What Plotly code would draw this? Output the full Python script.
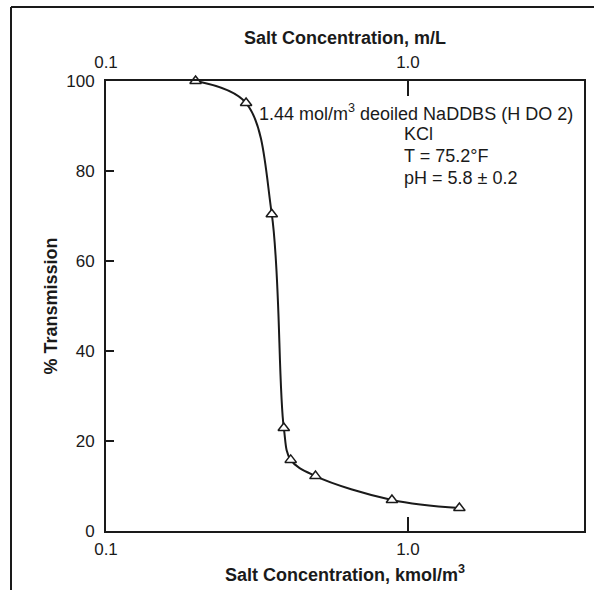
import plotly.graph_objects as go
import numpy as np

# Data
salt_conc = [0.198, 0.291, 0.354, 0.388, 0.409, 0.494, 0.885, 1.48]   # kmol/m^3
transmission = [100.0, 95.1, 70.4, 22.9, 15.8, 12.2, 6.9, 5.1]        # %

x_tick_vals = [0.1, 1.0]
x_tick_text = ["0.1", "1.0"]
y_tick_vals = [0, 20, 40, 60, 80, 100]

note_lines = ["1.44 mol/m<sup>3</sup> deoiled NaDDBS (H DO 2)", "KCl", "T = 75.2°F", "pH = 5.8 ± 0.2"]

W, H = 594, 590
L, R, T, B = 106, 10, 81, 59
pw, ph = W - L - R, H - T - B

def px_x(x):
    return (x - L) / pw

def px_y(y):
    return (H - B - y) / ph

FONT = "Liberation Sans, Arial, Helvetica, sans-serif"
INK = "#1a1a1a"

fig = go.Figure()
fig.add_trace(go.Scatter(
    x=salt_conc, y=transmission, mode="lines+markers",
    line=dict(color=INK, width=2, shape="spline", smoothing=1.0),
    marker=dict(symbol="triangle-up", size=10, color="white",
                line=dict(color=INK, width=1.5)),
    showlegend=False, cliponaxis=False,
))
# invisible trace for top axis
fig.add_trace(go.Scatter(x=salt_conc, y=transmission, xaxis="x2", mode="none",
                         showlegend=False, hoverinfo="skip"))

xr = [-1, 0.583]
fig.update_layout(
    width=W, height=H,
    margin=dict(l=L, r=R, t=T, b=B, autoexpand=False),
    paper_bgcolor="white", plot_bgcolor="white",
    font=dict(family=FONT, size=17, color=INK),
    xaxis=dict(type="log", range=xr, tickvals=x_tick_vals, ticktext=x_tick_text,
               ticks="inside", ticklen=14, tickwidth=2, tickcolor=INK,
               showline=True, linecolor=INK, linewidth=2, mirror=True,
               showgrid=False, zeroline=False, ticklabelstandoff=2,
               tickfont=dict(size=17), automargin=False,
               title=dict(text="<b>Salt Concentration, kmol/m<sup>3</sup></b>",
                          font=dict(size=18), standoff=10)),
    xaxis2=dict(type="log", range=xr, overlaying="x", side="top", anchor="y",
                tickvals=x_tick_vals, ticktext=x_tick_text,
                ticks="inside", ticklen=15, tickwidth=2, tickcolor=INK,
                showline=False, showgrid=False, zeroline=False,
                ticklabelstandoff=9, tickfont=dict(size=17), automargin=False,
                title=dict(text="<b>Salt Concentration, m/L</b>",
                           font=dict(size=18), standoff=3)),
    yaxis=dict(range=[0, 100], tickvals=y_tick_vals,
               ticks="inside", ticklen=8, tickwidth=2, tickcolor=INK,
               showline=True, linecolor=INK, linewidth=2, mirror=True,
               showgrid=False, zeroline=False, ticklabelstandoff=6,
               tickfont=dict(size=17), automargin=False,
               title=dict(text="<b>% Transmission</b>", font=dict(size=18), standoff=4)),
)

# annotation text block
ys = [112, 134, 156, 178]
xs = [257, 402, 402, 402]
for txt, xx, yy in zip(note_lines, xs, ys):
    fig.add_annotation(text=txt, xref="paper", yref="paper", x=px_x(xx), y=px_y(yy),
                       xanchor="left", yanchor="middle", showarrow=False,
                       font=dict(size=18, color=INK, family=FONT))

# outer figure frame (top and left lines)
fig.add_shape(type="line", xref="paper", yref="paper",
              x0=px_x(11), y0=px_y(7), x1=px_x(W + 2), y1=px_y(7),
              line=dict(color=INK, width=2))
fig.add_shape(type="line", xref="paper", yref="paper",
              x0=px_x(11), y0=px_y(7), x1=px_x(11), y1=px_y(H + 2),
              line=dict(color=INK, width=2))

fig.write_html("out.html")
